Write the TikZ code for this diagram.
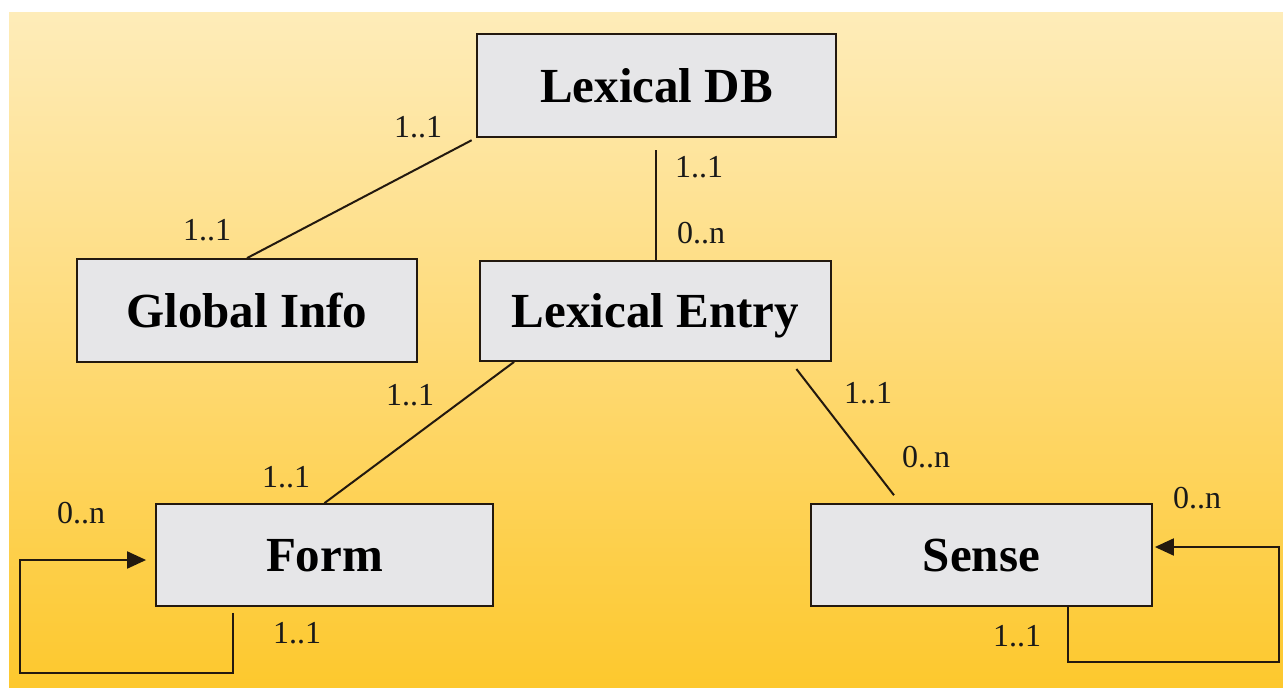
\documentclass[tikz,border=0pt]{standalone}
\usepackage{fontspec}
\setmainfont{Liberation Serif}
\usetikzlibrary{arrows.meta,calc}
\definecolor{bgtop}{RGB}{254,236,185}
\definecolor{bgmid}{RGB}{254,218,118}
\definecolor{bgbot}{RGB}{253,200,45}
\definecolor{boxfill}{RGB}{230,230,232}
\definecolor{ink}{RGB}{35,25,15}
\begin{document}
\begin{tikzpicture}[x=1pt,y=-1pt,
  entity/.style={draw=ink, line width=1.8pt, fill=boxfill,
    font=\fontsize{49}{55}\selectfont\bfseries, text=black,
    text height=33pt, text depth=0pt, inner sep=0pt, anchor=center},
  lbl/.style={font=\fontsize{32}{36}\selectfont, text=black!90, anchor=base, inner sep=0pt},
  conn/.style={draw=ink, line width=2pt},
  tip/.style={-{Triangle[length=19pt,width=17pt]}}]
\useasboundingbox (0,0) rectangle (1283,688);
\fill[white] (0,0) rectangle (1283,688);
\shade[top color=bgtop, bottom color=bgbot, middle color=bgmid] (9,12) rectangle (1283,688);

\node[entity, minimum width=359pt, minimum height=103pt] (ldb) at (656.5,85.5) {Lexical DB};
\node[entity, minimum width=340pt, minimum height=103pt] (gi) at (247,310.5) {Global Info};
\node[entity, minimum width=351pt, minimum height=100pt] (le) at (655.5,311) {Lexical Entry};
\node[entity, minimum width=337pt, minimum height=102pt] (form) at (324.5,555) {Form};
\node[entity, minimum width=341pt, minimum height=102pt] (sense) at (981.5,555) {Sense};

\coordinate (fl) at (20,673);
\coordinate (sr) at (1279,662);

\draw[conn, shorten <=5pt] (ldb.south west) -- (gi.north);
\draw[conn, shorten >=12pt] (le.north) -- (le.north |- ldb.south);
\draw[conn] ([xshift=35pt]le.south west) -- (form.north);
\draw[conn, shorten <=9pt, shorten >=10pt] ([xshift=-41pt]le.south east) -- ([xshift=90pt]sense.north west);
\draw[conn, tip] ([xshift=-91.5pt,yshift=-6pt]form.south) |- (fl) |- ([xshift=-9pt,yshift=-5pt]form.west);
\draw[conn, tip] ([xshift=86.5pt]sense.south) |- (sr) |- ([xshift=2pt,yshift=8pt]sense.east);

\node[lbl] (m1) at (418,137.5) {1..1};
\node[lbl] (m2) at (207,240.5) {1..1};
\node[lbl] (m3) at (699,177.5) {1..1};
\node[lbl] (m4) at (701,243.5) {0..n};
\node[lbl] (m5) at (410,405.5) {1..1};
\node[lbl] (m6) at (286,487.5) {1..1};
\node[lbl] (m7) at (868,403.5) {1..1};
\node[lbl] (m8) at (926,467.5) {0..n};
\node[lbl] (m9) at (81,523.5) {0..n};
\node[lbl] (m10) at (297,643.5) {1..1};
\node[lbl] (m11) at (1197,508.5) {0..n};
\node[lbl] (m12) at (1017,646.5) {1..1};
\end{tikzpicture}
\end{document}
